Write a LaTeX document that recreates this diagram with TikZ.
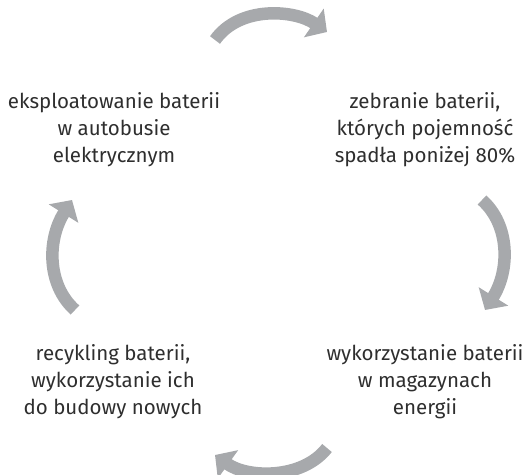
\documentclass[tikz,border=0pt]{standalone}
\usepackage{fontspec}
\setmainfont{Fira Sans}
\usetikzlibrary{arrows.meta}
\definecolor{arrowgray}{HTML}{A7A9AC}
\definecolor{textgray}{HTML}{2E2E2E}

\begin{document}
\begin{tikzpicture}[x=1pt, y=-1pt]
		\useasboundingbox (0,0) rectangle (530,474);
		\tikzstyle{every node} = [align=center, text=textgray, inner sep=0pt, font=\fontsize{20.5}{27}\selectfont]
		\node (use) at (114,130) {eksploatowanie baterii\\w autobusie\\elektrycznym};
		\node (collect) at (425,130) {zebranie baterii,\\których pojemność\\spadła poniżej 80\%};
		\node (store) at (425,382) {wykorzystanie baterii\\w magazynach\\energii};
		\node (recycle) at (113,382) {recykling baterii,\\wykorzystanie ich\\do budowy nowych};

		\tikzstyle{cycarrow} = [draw=arrowgray, line width=12.5pt, -{Triangle[length=16pt, width=34pt]}]
		\coordinate (t1) at (215,40);  \coordinate (h1) at (327,32);
		\coordinate (t2) at (482,200); \coordinate (h2) at (485,310);
		\coordinate (t3) at (327,448); \coordinate (h3) at (215,455);
		\coordinate (t4) at (75,310);  \coordinate (h4) at (72,200);
		\draw [cycarrow] (t1) .. controls (240,5) and (295,10) .. (h1);
		\draw [cycarrow] (t2) .. controls (510,225) and (510,270) .. (h2);
		\draw [cycarrow] (t3) .. controls (302,480) and (247,478) .. (h3);
		\draw [cycarrow] (t4) .. controls (47,285) and (47,240) .. (h4);
\end{tikzpicture}
\end{document}
